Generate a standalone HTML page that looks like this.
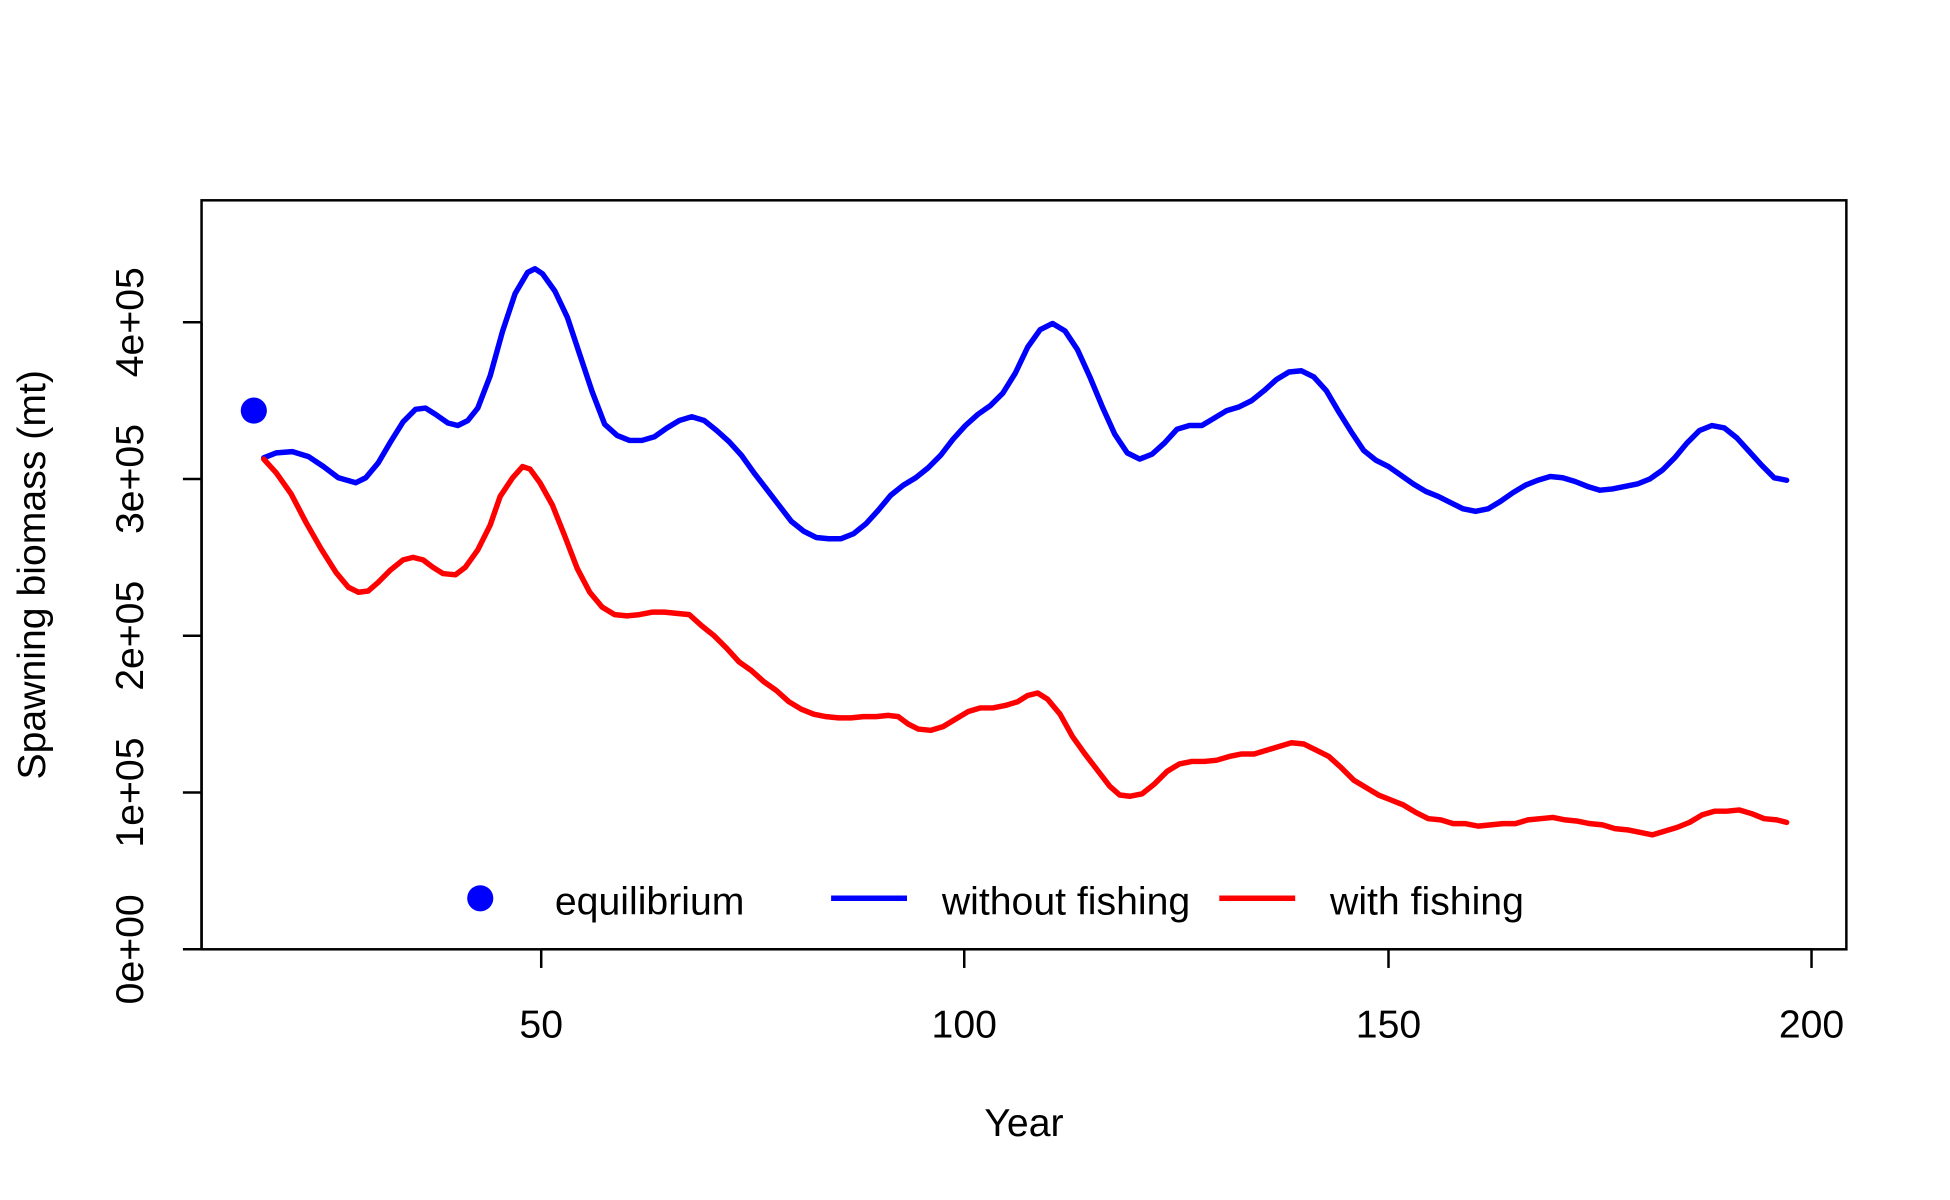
<!DOCTYPE html>
<html><head><meta charset="utf-8"><style>html,body{margin:0;padding:0;background:#fff}svg{display:block}</style></head>
<body>
<svg width="1950" height="1200" viewBox="0 0 1567.3 964.5" preserveAspectRatio="none" xmlns="http://www.w3.org/2000/svg" font-family="Liberation Sans, Arial, sans-serif" font-size="31.5">
<rect x="162" y="161" width="1322" height="602" fill="none" stroke="#000" stroke-width="2"/>
<g stroke="#000" stroke-width="2">
<line x1="435" y1="763" x2="1456" y2="763"/>
<line x1="435" y1="763" x2="435" y2="778"/><line x1="775" y1="763" x2="775" y2="778"/><line x1="1116" y1="763" x2="1116" y2="778"/><line x1="1456" y1="763" x2="1456" y2="778"/>
<line x1="162" y1="259" x2="162" y2="763"/>
<line x1="147" y1="763" x2="162" y2="763"/><line x1="147" y1="637" x2="162" y2="637"/><line x1="147" y1="511" x2="162" y2="511"/><line x1="147" y1="385" x2="162" y2="385"/><line x1="147" y1="259" x2="162" y2="259"/>
</g>
<g text-anchor="middle" fill="#000">
<text x="435" y="834">50</text><text x="775" y="834">100</text><text x="1116" y="834">150</text><text x="1456" y="834">200</text>
<text x="823" y="913">Year</text>
<text transform="translate(115,763) rotate(-90)">0e+00</text>
<text transform="translate(115,637) rotate(-90)">1e+05</text>
<text transform="translate(115,511) rotate(-90)">2e+05</text>
<text transform="translate(115,385) rotate(-90)">3e+05</text>
<text transform="translate(115,259) rotate(-90)">4e+05</text>
<text transform="translate(36,462) rotate(-90)">Spawning biomass (mt)</text>
</g>
<polyline fill="none" stroke="#0000ff" stroke-width="4.4" stroke-linejoin="round" stroke-linecap="round" points="212,368 222,364 235,363 248,367 260,375 272,384 286,388 294,384 304,372 314,355 324,339 334,329 342,328 350,333 360,340 368,342 376,338 384,328 394,302 404,266 414,236 424,219 430,216 436,220 446,234 456,255 466,285 476,315 486,341 496,350 506,354 516,354 526,351 536,344 546,338 556,335 566,338 576,346 586,355 596,366 606,380 616,393 626,406 636,419 646,427 656,432 666,433 676,433 686,429 696,421 706,410 716,398 726,390 736,384 746,376 756,366 766,353 776,342 786,333 796,326 806,316 816,300 826,279 836,265 846,260 856,266 866,281 876,303 886,327 896,349 906,364 916,369 926,365 936,356 946,345 956,342 966,342 976,336 986,330 996,327 1006,322 1016,314 1026,305 1036,299 1046,298 1056,303 1066,314 1076,331 1086,347 1096,362 1106,370 1116,375 1126,382 1136,389 1146,395 1156,399 1166,404 1176,409 1186,411 1196,409 1206,403 1216,396 1226,390 1236,386 1246,383 1256,384 1266,387 1276,391 1286,394 1296,393 1306,391 1316,389 1326,385 1336,378 1346,368 1356,356 1366,346 1376,342 1386,344 1396,352 1406,363 1416,374 1426,384 1436,386"/>
<polyline fill="none" stroke="#ff0000" stroke-width="4.4" stroke-linejoin="round" stroke-linecap="round" points="212,369 222,380 234,397 246,420 258,441 270,460 280,472 288,476 296,475 304,468 314,458 324,450 332,448 340,450 348,456 356,461 366,462 374,456 384,442 394,422 402,399 412,384 420,375 426,377 434,388 444,406 454,431 464,457 474,476 484,488 494,494 504,495 514,494 524,492 534,492 544,493 554,494 564,503 574,511 584,521 594,532 604,539 614,548 624,555 634,564 644,570 654,574 664,576 674,577 684,577 694,576 704,576 714,575 722,576 730,582 738,586 748,587 758,584 768,578 778,572 788,569 798,569 808,567 818,564 826,559 834,557 842,562 852,574 862,592 872,606 882,619 892,632 900,639 908,640 918,638 928,630 938,620 948,614 958,612 968,612 978,611 988,608 998,606 1008,606 1018,603 1028,600 1038,597 1048,598 1058,603 1068,608 1078,617 1088,627 1098,633 1108,639 1118,643 1128,647 1138,653 1148,658 1158,659 1168,662 1178,662 1188,664 1198,663 1208,662 1218,662 1228,659 1238,658 1248,657 1258,659 1268,660 1278,662 1288,663 1298,666 1308,667 1318,669 1328,671 1338,668 1348,665 1358,661 1368,655 1378,652 1388,652 1398,651 1408,654 1418,658 1428,659 1436,661"/>
<circle cx="204" cy="330" r="10.5" fill="#0000ff"/>
<circle cx="386" cy="722" r="10.5" fill="#0000ff"/>
<line x1="668" y1="722" x2="729" y2="722" stroke="#0000ff" stroke-width="4.4"/>
<line x1="980" y1="722" x2="1041" y2="722" stroke="#ff0000" stroke-width="4.4"/>
<g fill="#000">
<text x="446" y="735">equilibrium</text>
<text x="757" y="735">without fishing</text>
<text x="1069" y="735">with fishing</text>
</g>
</svg>
</body></html>
